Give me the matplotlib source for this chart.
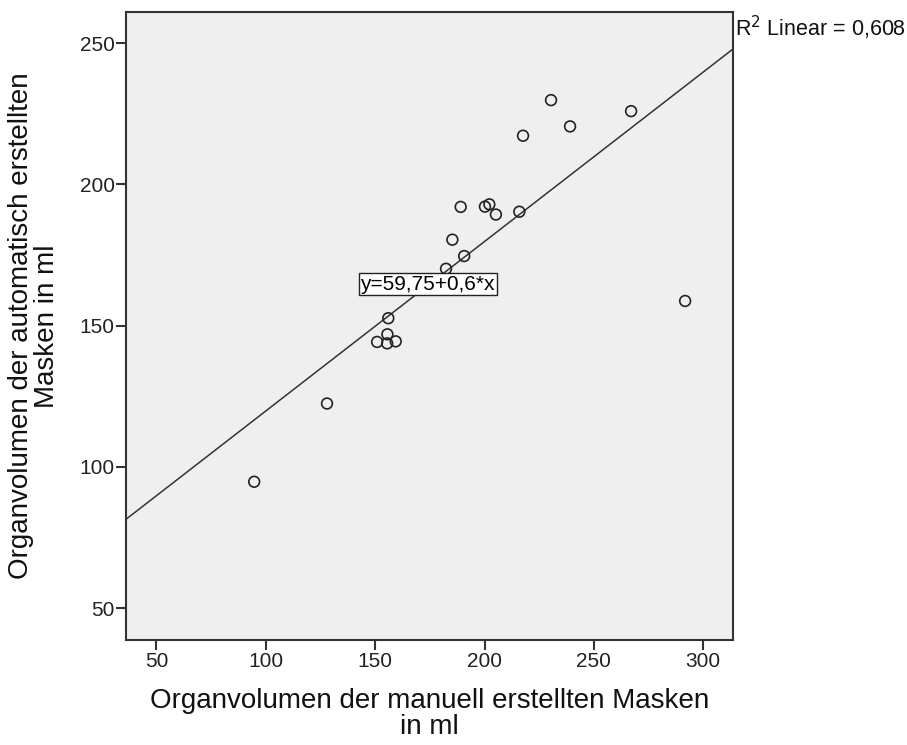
import matplotlib
matplotlib.use("Agg")
import matplotlib.pyplot as plt
import numpy as np

plt.rcParams["font.family"] = ["Liberation Sans", "DejaVu Sans"]

# Organ volumes (ml): manual masks vs. automatic masks
manual_ml = [94.7, 128.0, 156.0, 155.6, 150.9, 155.5, 159.4, 182.4, 190.7, 185.3,
             189.1, 200.2, 202.2, 205.2, 215.9, 217.6, 230.4, 239.1, 267.0, 291.7]
auto_ml = [94.7, 122.4, 152.6, 146.9, 144.2, 143.7, 144.4, 170.1, 174.6, 180.4,
           192.0, 192.1, 192.9, 189.3, 190.3, 217.2, 229.8, 220.5, 225.9, 158.7]

# Fit line as reported
intercept = 59.75
slope = 0.6
r2 = 0.608

fig = plt.figure(figsize=(9.07, 7.45), dpi=100)
ax = fig.add_axes([0.1389, 0.141, 0.6693, 0.8429])
ax.set_facecolor("#efefef")

xlim = (36.1, 313.6)
ylim = (38.7, 261.0)
ax.set_xlim(xlim)
ax.set_ylim(ylim)

xs = np.array(xlim)
ax.plot(xs, intercept + slope * xs, color="#333333", linewidth=1.1, zorder=2)

ax.scatter(manual_ml, auto_ml, s=60, facecolors="none", edgecolors="#222222",
           linewidths=1.2, zorder=3)

ax.text(143.3, 164.7, "y=59,75+0,6*x", fontsize=15, ha="left", va="center",
        zorder=4,
        bbox=dict(boxstyle="square,pad=0.08", facecolor="white",
                  edgecolor="#222222", linewidth=1.0))

ax.set_xticks([50, 100, 150, 200, 250, 300])
ax.set_yticks([50, 100, 150, 200, 250])
ax.tick_params(direction="out", length=7, width=1.5, color="#333333",
               labelsize=15, labelcolor="#222222", pad=2)
ax.tick_params(axis="y", pad=1)
for s in ax.spines.values():
    s.set_color("#333333")
    s.set_linewidth(1.5)

ax.set_xlabel("Organvolumen der manuell erstellten Masken\nin ml",
              fontsize=20, color="#111111", labelpad=12, linespacing=1.0)
ax.set_ylabel("Organvolumen der automatisch erstellten\nMasken in ml",
              fontsize=20, color="#111111", labelpad=14, linespacing=1.0)

fig.text(0.8107, 0.962, r"R$^2$ Linear = 0,608", fontsize=15.5,
         ha="left", va="center", color="#111111")

fig.savefig("out.png", dpi=100)
